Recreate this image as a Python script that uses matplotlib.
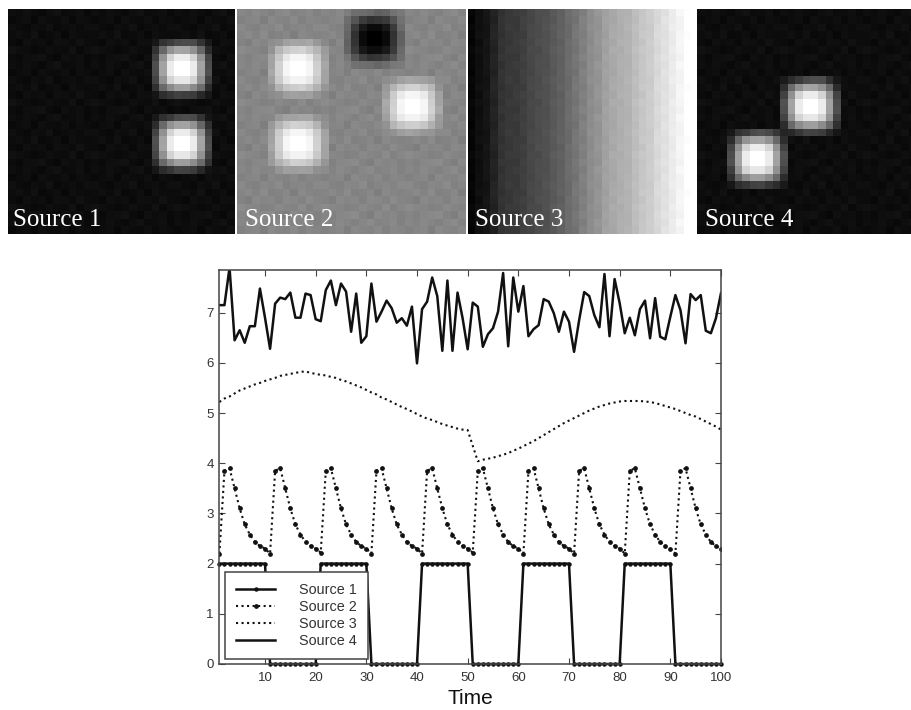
import numpy as np
import matplotlib

matplotlib.use("Agg")
from matplotlib import pyplot as plt

WIDTH = 911
HEIGHT = 710

time = list(range(1, 101))

source_1 = (
    [2] * 10 + [0] * 10 + [2] * 10 + [0] * 10 + [2] * 10
    + [0] * 10 + [2] * 10 + [0] * 10 + [2] * 10 + [0] * 10
)
source_2 = [
    2.20, 3.85, 3.90, 3.50, 3.10, 2.78, 2.58, 2.43, 2.35, 2.30,
    2.20, 3.85, 3.90, 3.50, 3.10, 2.78, 2.58, 2.43, 2.35, 2.30,
    2.22, 3.85, 3.90, 3.50, 3.10, 2.78, 2.58, 2.43, 2.35, 2.30,
    2.20, 3.85, 3.90, 3.50, 3.10, 2.78, 2.58, 2.43, 2.35, 2.30,
    2.20, 3.85, 3.90, 3.50, 3.10, 2.78, 2.58, 2.43, 2.35, 2.30,
    2.22, 3.85, 3.90, 3.50, 3.10, 2.78, 2.58, 2.43, 2.35, 2.30,
    2.20, 3.85, 3.90, 3.50, 3.10, 2.78, 2.58, 2.43, 2.35, 2.30,
    2.20, 3.85, 3.90, 3.50, 3.10, 2.78, 2.58, 2.43, 2.35, 2.30,
    2.20, 3.85, 3.90, 3.50, 3.10, 2.78, 2.58, 2.43, 2.35, 2.30,
    2.20, 3.85, 3.90, 3.50, 3.10, 2.78, 2.58, 2.43, 2.35, 2.30,
]
source_3 = [
    5.22, 5.29, 5.33, 5.39, 5.45, 5.49, 5.53, 5.57, 5.60, 5.64,
    5.67, 5.70, 5.74, 5.76, 5.78, 5.80, 5.82, 5.83, 5.80, 5.78,
    5.76, 5.75, 5.72, 5.70, 5.66, 5.63, 5.59, 5.55, 5.51, 5.46,
    5.41, 5.37, 5.31, 5.27, 5.22, 5.17, 5.12, 5.08, 5.03, 4.98,
    4.93, 4.89, 4.86, 4.82, 4.78, 4.75, 4.72, 4.69, 4.67, 4.66,
    4.35, 4.04, 4.07, 4.09, 4.11, 4.14, 4.17, 4.20, 4.25, 4.29,
    4.34, 4.39, 4.44, 4.50, 4.56, 4.62, 4.68, 4.74, 4.80, 4.85,
    4.90, 4.95, 5.00, 5.05, 5.09, 5.13, 5.16, 5.19, 5.21, 5.23,
    5.24, 5.24, 5.24, 5.24, 5.23, 5.22, 5.20, 5.17, 5.14, 5.11,
    5.08, 5.04, 5.00, 4.96, 4.93, 4.88, 4.83, 4.78, 4.73, 4.67,
]
source_4 = [
    7.15, 7.15, 7.90, 6.45, 6.65, 6.40, 6.73, 6.73, 7.48, 6.90,
    6.28, 7.18, 7.30, 7.27, 7.40, 6.90, 6.90, 7.38, 7.35, 6.87,
    6.83, 7.45, 7.64, 7.15, 7.58, 7.42, 6.62, 7.38, 6.40, 6.53,
    7.58, 6.82, 7.02, 7.24, 7.09, 6.80, 6.89, 6.74, 7.12, 5.99,
    7.07, 7.22, 7.70, 7.33, 6.24, 7.64, 6.24, 7.40, 6.89, 6.27,
    7.20, 7.12, 6.32, 6.57, 6.69, 7.02, 7.79, 6.33, 7.70, 7.02,
    7.53, 6.53, 6.67, 6.75, 7.27, 7.22, 6.99, 6.62, 7.02, 6.82,
    6.22, 6.85, 7.41, 7.33, 6.95, 6.71, 7.77, 6.53, 7.67, 7.19,
    6.59, 6.90, 6.55, 7.07, 7.24, 6.49, 7.29, 6.52, 6.47, 6.92,
    7.35, 7.05, 6.39, 7.37, 7.25, 7.35, 6.64, 6.59, 6.89, 7.39,
]

x_ticks = [10, 20, 30, 40, 50, 60, 70, 80, 90, 100]
y_ticks = [0, 1, 2, 3, 4, 5, 6, 7]

# one bright spot as it appears in the source maps, 8x8 cells
spot = [
    [0.05, 0.14, 0.20, 0.25, 0.27, 0.25, 0.16, 0.05],
    [0.14, 0.38, 0.55, 0.62, 0.62, 0.55, 0.38, 0.14],
    [0.22, 0.55, 0.82, 0.92, 0.92, 0.82, 0.55, 0.22],
    [0.27, 0.62, 0.92, 1.00, 1.00, 0.92, 0.62, 0.27],
    [0.27, 0.62, 0.92, 1.00, 1.00, 0.92, 0.62, 0.27],
    [0.22, 0.55, 0.82, 0.90, 0.90, 0.82, 0.55, 0.22],
    [0.14, 0.38, 0.52, 0.60, 0.60, 0.52, 0.38, 0.14],
    [0.04, 0.12, 0.18, 0.22, 0.22, 0.18, 0.12, 0.04],
]
# faint grain of the map backgrounds
grain = [
    [1, -1, 2, 0, -2, 1, 3, -1, 0, 2, -2],
    [-2, 0, 1, -3, 2, 0, -1, 2, -2, 1, 0],
    [2, -1, -2, 1, 0, 3, -2, 0, 1, -1, 2],
    [0, 2, -1, 3, -2, -1, 1, -3, 2, 0, -1],
    [-1, -3, 2, 0, 1, -2, 2, 1, -1, 3, 0],
    [3, 1, 0, -2, -1, 2, 0, -1, 3, -2, 1],
    [0, -2, 1, 2, 3, -1, -3, 2, 0, 1, -2],
]
# (row, column) of the top-left cell of each spot
source_1_spots = [(4, 19), (14, 19)]
source_2_spots = [(4, 4), (14, 4), (9, 19)]
source_2_dark_spots = [(0, 14)]
source_4_spots = [(9, 11), (16, 4)]
source_3_columns = [
    0.02, 0.06, 0.08, 0.14, 0.20, 0.22, 0.23, 0.25, 0.28, 0.30,
    0.32, 0.35, 0.38, 0.42, 0.46, 0.50, 0.55, 0.58, 0.63, 0.66,
    0.68, 0.70, 0.74, 0.78, 0.80, 0.85, 0.88, 0.92, 0.96, 1.00,
]


def px_axes(fig, left, top, right, bottom):
    return fig.add_axes(
        [left / WIDTH, 1 - bottom / HEIGHT, (right - left) / WIDTH, (bottom - top) / HEIGHT]
    )


def background(level, strength):
    tile = np.array(grain, dtype=float)
    return level + np.tile(tile, (5, 3))[:30, :30] * strength


def make_map(level, bright, dark=(), strength=0.006):
    cells = background(level, strength)
    blob = np.array(spot)
    for row, col in bright:
        cells[row:row + 8, col:col + 8] += blob * (1 - cells[row:row + 8, col:col + 8])
    for row, col in dark:
        cells[row:row + 8, col:col + 8] -= blob * cells[row:row + 8, col:col + 8]
    return np.clip(cells, 0, 1)


fig = plt.figure(figsize=(WIDTH / 100, HEIGHT / 100), dpi=100)

source_3_cells = np.tile(np.array(source_3_columns), (30, 1))
source_3_cells = np.clip(source_3_cells + background(0, 0.004), 0, 1)

maps = [
    (make_map(0.05, source_1_spots), (8, 9, 235, 234), "Source 1", 30, 13),
    (make_map(0.52, source_2_spots, source_2_dark_spots, 0.008), (237, 9, 465, 234), "Source 2", 30, 245),
    (source_3_cells, (468, 9, 691, 234), "Source 3", 30, 475),
    (make_map(0.05, source_4_spots), (697, 9, 911, 234), "Source 4", 28.3, 705),
]
for cells, box, name, columns, text_x in maps:
    panel = px_axes(fig, *box)
    panel.imshow(cells, cmap="gray", vmin=0, vmax=1, interpolation="nearest",
                 extent=[0, 30, 30, 0], aspect="auto")
    panel.set_xlim(0, columns)
    panel.set_axis_off()
    fig.text(text_x / WIDTH, 1 - 226.5 / HEIGHT, name, color="white",
             family="Liberation Serif", fontsize=18, va="baseline")

ax = px_axes(fig, 219.4, 270, 721, 664)
ink = "#111111"
ax.plot(time, source_1, "-", color=ink, lw=1.8, marker="o", ms=2.2, clip_on=False, label="Source 1")
ax.plot(time, source_2, ":", color=ink, lw=1.5, marker="o", ms=2.4, label="Source 2")
ax.plot(time, source_3, ":", color=ink, lw=1.5, label="Source 3")
ax.plot(time, source_4, "-", color=ink, lw=1.8, label="Source 4")

ax.set_xlim(1, 100)
ax.set_ylim(0, 7.85)
ax.set_xticks(x_ticks)
ax.set_yticks(y_ticks)
ax.tick_params(direction="in", top=True, right=True, length=4, width=0.8,
               color="#444444", labelcolor="#333333", labelsize=9.5)
ax.tick_params(axis="x", pad=6)
ax.tick_params(axis="y", pad=4)
for label in ax.get_xticklabels() + ax.get_yticklabels():
    label.set_family("Liberation Sans")
for spine in ax.spines.values():
    spine.set_color("#444444")
    spine.set_linewidth(1.1)
ax.set_xlabel("Time", family="Liberation Sans", fontsize=15, color="#111111", labelpad=3.5)

legend = ax.legend(
    loc="lower left",
    bbox_to_anchor=((225 - 219.4) / 501.6, (664 - 659) / 394),
    borderaxespad=0,
    fancybox=False,
    framealpha=1,
    edgecolor="#444444",
    prop={"family": "Liberation Sans", "size": 10.4},
    labelspacing=0.2,
    handlelength=2.7,
    handletextpad=1.67,
    borderpad=0.77,
)
legend.get_frame().set_linewidth(1.1)
for text in legend.get_texts():
    text.set_color("#333333")

fig.savefig("out.png", dpi=100)
